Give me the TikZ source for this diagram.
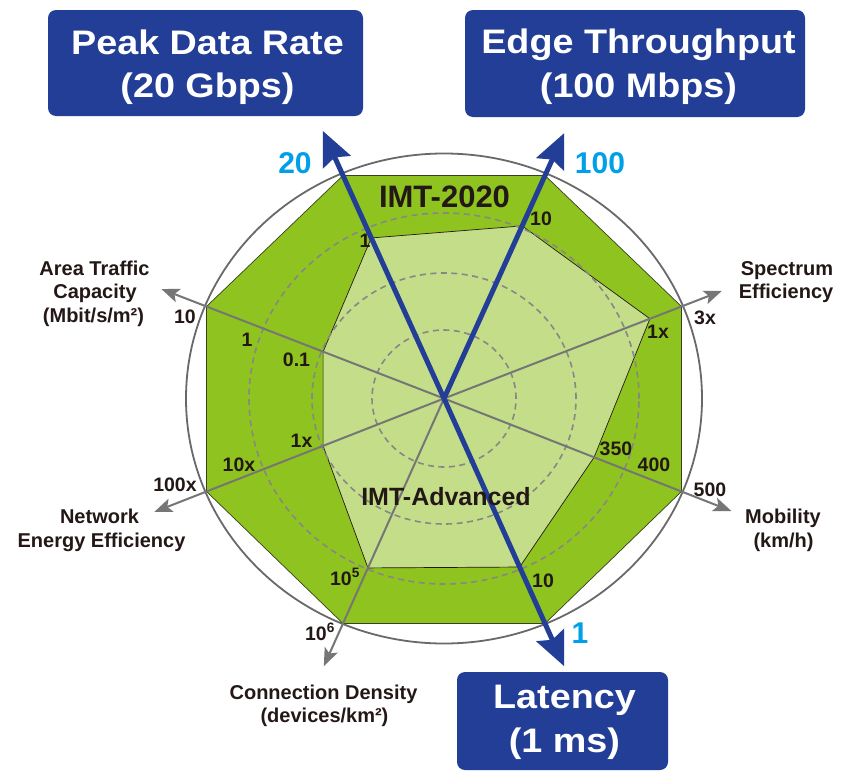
\documentclass[tikz,border=0pt]{standalone}
\usepackage{fontspec}
\setmainfont{Liberation Sans}
\newfontfamily\widesans{Liberation Sans}[FakeStretch=1.11]
\usetikzlibrary{arrows.meta,calc}

\definecolor{greenD}{RGB}{143,195,31}
\definecolor{greenL}{RGB}{196,221,137}
\definecolor{navy}{RGB}{35,62,150}
\definecolor{sky}{RGB}{0,160,233}
\definecolor{axisgray}{RGB}{118,118,118}
\definecolor{ringgray}{RGB}{105,105,105}
\definecolor{dashgray}{RGB}{135,135,135}
\definecolor{ink}{RGB}{35,24,21}
\definecolor{edgeline}{RGB}{55,65,30}

\begin{document}
\begin{tikzpicture}[x=1pt,y=-1pt,
  titlebox/.style={fill=navy, draw=none, rounded corners=8pt, inner sep=0pt},
  titletext/.style={text=white, font=\widesans\bfseries\fontsize{34}{40}\selectfont, anchor=base, inner sep=0pt},
  axisname/.style={text=ink, font=\bfseries\fontsize{20}{24}\selectfont, anchor=base, inner sep=0pt},
  tick/.style={text=ink, font=\bfseries\fontsize{19.5}{23}\selectfont, anchor=base, inner sep=0pt},
  bigval/.style={text=sky, font=\bfseries\fontsize{30}{34}\selectfont, anchor=base, inner sep=0pt},
  gen/.style={text=ink, font=\bfseries\fontsize{#1}{#1}\selectfont, anchor=base, inner sep=0pt},
  ring/.style={draw=dashgray, line width=1.6pt, dash pattern=on 6pt off 4.5pt},
  grayaxis/.style={draw=axisgray, line width=2pt, -{Stealth[length=18pt,width=14pt,inset=4pt]}},
  bluearrow/.style={draw=navy, line width=5pt, line join=round},
  bluetip/.tip={Stealth[length=34pt,width=30pt,inset=5pt]},
]
% canvas
\fill[white] (0,0) rectangle (841,771);
\useasboundingbox (0,0) rectangle (841,771);

% centre of the chart and the eight outer (IMT-2020) vertices
\coordinate (C) at (444,398.5);
\coordinate (Vpk) at (343,175.5);
\coordinate (Vet) at (545,175.5);
\coordinate (Vse) at (681.5,306.5);
\coordinate (Vmo) at (681.5,491.5);
\coordinate (Vla) at (545,623.5);
\coordinate (Vcd) at (343,623.5);
\coordinate (Vne) at (206.5,491.5);
\coordinate (Vat) at (206.5,306.5);

% inner (IMT-Advanced) vertices on the same axes
\coordinate (Ipk) at ($(C)!0.72!(Vpk)$);
\coordinate (Iet) at ($(C)!0.774!(Vet)$);
\coordinate (Ise) at ($(C)!0.867!(Vse)$);
\coordinate (Imo) at ($(C)!0.632!(Vmo)$);
\coordinate (Ila) at ($(C)!0.749!(Vla)$);
\coordinate (Icd) at ($(C)!0.753!(Vcd)$);
\coordinate (Ine) at ($(C)!0.509!(Vne)$);
\coordinate (Iat) at ($(C)!0.509!(Vat)$);

% arrow ends of the axes
\coordinate (Tpk) at ($(C)!1.2!(Vpk)$);
\coordinate (Tet) at ($(C)!1.19!(Vet)$);
\coordinate (Tse) at ($(C)!1.17!(Vse)$);
\coordinate (Tmo) at ($(C)!1.21!(Vmo)$);
\coordinate (Tla) at ($(C)!1.19!(Vla)$);
\coordinate (Tcd) at ($(C)!1.19!(Vcd)$);
\coordinate (Tne) at ($(C)!1.22!(Vne)$);
\coordinate (Tat) at ($(C)!1.19!(Vat)$);

% IMT-2020 area
\filldraw[fill=greenD, draw=edgeline, line width=0.7pt]
  (Vpk) -- (Vet) -- (Vse) -- (Vmo) -- (Vla) -- (Vcd) -- (Vne) -- (Vat) -- cycle;
% IMT-Advanced area
\filldraw[fill=greenL, draw=ink, line width=0.7pt]
  (Ipk) -- (Iet) -- (Ise) -- (Imo) -- (Ila) -- (Icd) -- (Ine) -- (Iat) -- cycle;

% scale rings
\draw[ring] (C) ellipse [x radius=72pt, y radius=68.5pt];
\draw[ring] (C) ellipse [x radius=132pt, y radius=125.5pt];
\draw[ring] (C) ellipse [x radius=195pt, y radius=185.5pt];
\draw[ringgray, line width=1.8pt] (C) ellipse [x radius=258pt, y radius=245pt];

% grey axes
\draw[grayaxis] (C) -- (Tse);
\draw[grayaxis] (C) -- (Tmo);
\draw[grayaxis] (C) -- (Tcd);
\draw[grayaxis] (C) -- (Tne);
\draw[grayaxis] (C) -- (Tat);

% key axes
\draw[bluearrow, bluetip-bluetip] (Tla) -- (C) -- (Tpk);
\draw[bluearrow, -bluetip] (C) -- (Tet);

% area names
\node[gen=31] (imt2020) at (444.5,207) {IMT-2020};
\node[gen=25] (imtadv) at (446,505) {IMT-Advanced};

% key values
\node[bigval] (v20) at (295,173) {20};
\node[bigval] (v100) at (600,173) {100};
\node[bigval] (v1) at (580,643) {1};

% axis values
\node[tick] (pk1) at (365,247) {1};
\node[tick] (et10) at (541,225) {10};
\node[tick] (se1) at (658,338) {1x};
\node[tick] (se3) at (705,324) {3x};
\node[tick] (mo350) at (616,455) {350};
\node[tick] (mo400) at (654,471) {400};
\node[tick] (mo500) at (710,496) {500};
\node[tick] (la10) at (543,587) {10};
\node[tick] (cd5) at (345,585) {10\textsuperscript{5}};
\node[tick] (cd6) at (320,640) {10\textsuperscript{6}};
\node[tick] (ne1) at (301.5,447) {1x};
\node[tick] (ne10) at (239,471) {10x};
\node[tick] (ne100) at (175,491) {100x};
\node[tick] (at10) at (185,323) {10};
\node[tick] (at1) at (247,346) {1};
\node[tick] (at01) at (296.5,366) {0.1};

% axis names
\node[axisname] (at-a) at (94.5,275) {Area Traffic};
\node[axisname] (at-b) at (95,298) {Capacity};
\node[axisname] (at-c) at (93.5,322) {(Mbit/s/m²)};
\node[axisname] (ne-a) at (99.5,523) {Network};
\node[axisname] (ne-b) at (101.5,547) {Energy Efficiency};
\node[axisname] (cd-a) at (323.5,699) {Connection Density};
\node[axisname] (cd-b) at (324.5,722) {(devices/km²)};
\node[axisname] (se-a) at (787,275) {Spectrum};
\node[axisname] (se-b) at (786,298) {Efficiency};
\node[axisname] (mo-a) at (783,523) {Mobility};
\node[axisname] (mo-b) at (783.5,547) {(km/h)};

% headline boxes
\node[titlebox, minimum width=315pt, minimum height=106pt] (peakbox) at (205.5,63) {};
\node[titletext] (peak-a) at (207.5,54) {Peak Data Rate};
\node[titletext] (peak-b) at (207.5,97) {(20 Gbps)};

\node[titlebox, minimum width=340pt, minimum height=107pt] (edgebox) at (635,63.5) {};
\node[titletext] (edge-a) at (638.5,53) {Edge Throughput};
\node[titletext] (edge-b) at (638.5,97) {(100 Mbps)};

\node[titlebox, minimum width=211pt, minimum height=98pt] (latbox) at (562.5,721) {};
\node[titletext] (lat-a) at (564.5,708) {Latency};
\node[titletext] (lat-b) at (564.5,752) {(1 ms)};
\end{tikzpicture}
\end{document}
